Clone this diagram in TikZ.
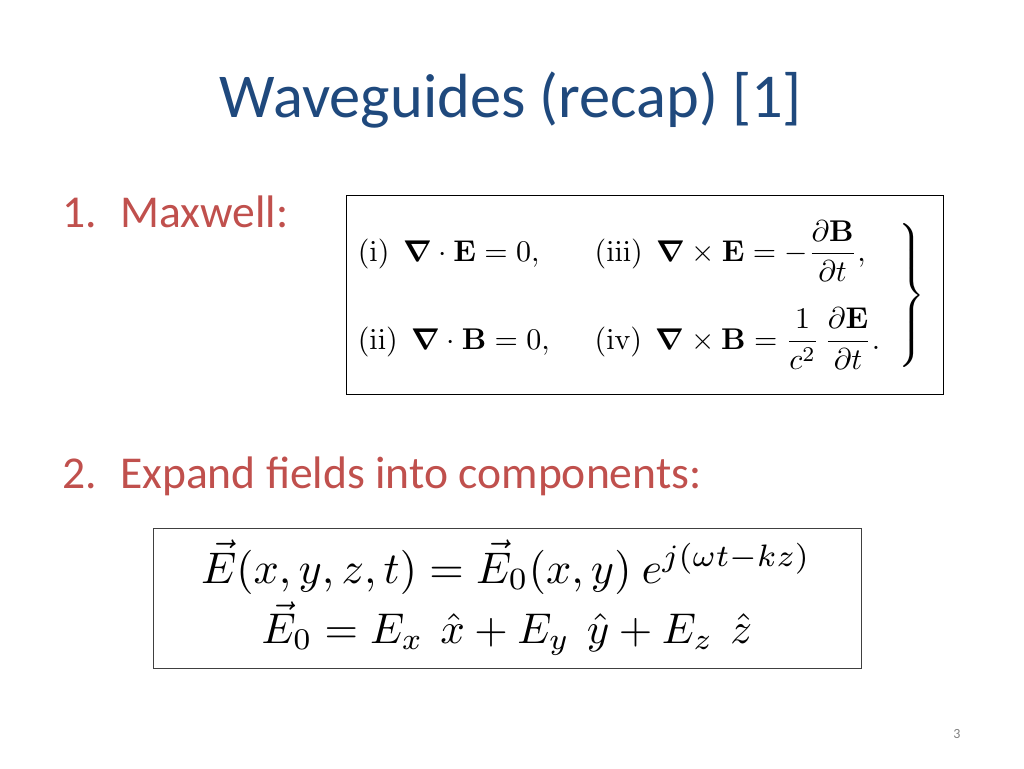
\documentclass[tikz,border=0pt]{standalone}
\usepackage{amsmath, amssymb}
\usepackage{bm}
\usepackage{graphicx}
\usepackage[no-math]{fontspec}
\setmainfont{Carlito}
\usepackage{tikz}
\definecolor{titleblue}{HTML}{1F497D}
\definecolor{itemred}{HTML}{C0504D}

\begin{document}
\begin{tikzpicture}[x=1pt,y=-1pt,
	every node/.style={inner sep=0pt},
	itemtext/.style={anchor=base west, text=itemred, font=\fontsize{45.6}{52}\selectfont},
	eqbox/.style={draw, line width=.9pt}]
\useasboundingbox (0,0) rectangle (1024,768);
\path (511,117) node[anchor=base, text=titleblue, font=\fontsize{62.4}{72}\selectfont] (title) {Waveguides (recap) [1]}
		(62,227) node[itemtext] (maxwell) {\makebox[58pt][l]{1.}Maxwell:}
		(62,488) node[itemtext] (expand) {\makebox[58pt][l]{2.}Expand fields into components:}
		(644.5,294.5) node[eqbox, minimum width=597, minimum height=199] (maxbox) {}
		(354,295) node[anchor=west] (maxeqs) {\scalebox{3.0}{$\left.\begin{array}{@{}l@{\hspace{15pt}}l@{}}
			\mathrm{(i)}\ \ \bm{\nabla}\cdot\mathbf{E}=0, & \mathrm{(iii)}\ \ \bm{\nabla}\times\mathbf{E}=-\dfrac{\partial\mathbf{B}}{\partial t}, \\[12pt]
			\mathrm{(ii)}\ \ \bm{\nabla}\cdot\mathbf{B}=0, & \mathrm{(iv)}\ \ \bm{\nabla}\times\mathbf{B}=\dfrac{1}{c^2}\,\dfrac{\partial\mathbf{E}}{\partial t}.
			\end{array}\hspace{6pt}\right\}$}}
		(507,598) node[eqbox, draw=black!75, minimum width=708, minimum height=140] (fieldbox) {}
		(506,583) node[anchor=base] (efield) {\scalebox{4.43}{$\vec{E}(x,y,z,t)=\vec{E}_0(x,y)\ e^{j(\omega t-kz)}$}}
		(507,643) node[anchor=base] (ecomp) {\scalebox{4.3}{$\vec{E}_0=E_x\ \,\hat{x}+E_y\ \,\hat{y}+E_z\ \,\hat{z}$}}
		(957,738) node[anchor=base, text=black!50, font=\fontsize{14}{16}\selectfont] (pagenum) {3}
		;
\end{tikzpicture}
\end{document}
